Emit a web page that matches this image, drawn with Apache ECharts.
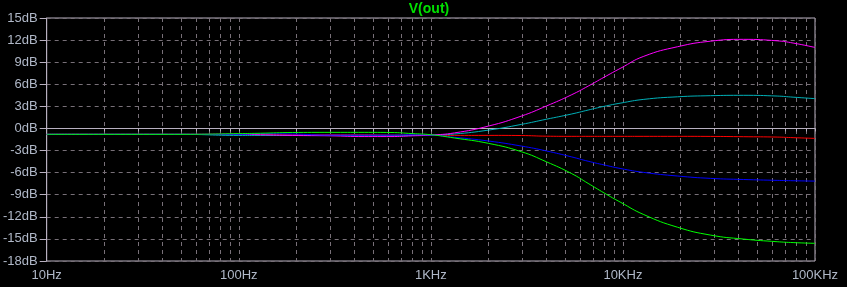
<!DOCTYPE html>
<html>
<head>
<meta charset="utf-8">
<script src="https://cdn.jsdelivr.net/npm/echarts@6/dist/echarts.min.js"></script>
<style>
html,body{margin:0;padding:0;background:#000;}
#chart{width:847px;height:287px;}
</style>
</head>
<body>
<div id="chart"></div>
<script>
const freqs = [10, 50, 100, 130, 190, 300, 450, 620, 800, 1000, 1330, 2000, 2960, 3990, 5380, 6590, 7970, 9760, 12850, 19270, 28570, 42350, 63520, 76900, 100000];
const magentaDb = [-0.8, -0.8, -0.8, -0.85, -0.95, -1.0, -1.1, -1.1, -1.0, -0.9, -0.6, 0.33, 1.68, 3.04, 4.55, 5.75, 6.95, 8.2, 9.8, 11.1, 11.85, 12.1, 11.9, 11.6, 11.0];
const cyanDb = [-0.8, -0.8, -0.95, -0.95, -0.95, -0.95, -1.0, -1.0, -0.95, -0.9, -0.75, -0.22, 0.55, 1.25, 1.95, 2.5, 3.0, 3.45, 3.95, 4.3, 4.45, 4.5, 4.4, 4.25, 4.05];
const redDb = [-0.8, -0.8, -0.8, -0.85, -0.85, -0.85, -0.85, -0.9, -0.9, -0.9, -0.94, -0.94, -0.96, -1.05, -1.07, -1.07, -1.07, -1.07, -1.07, -1.07, -1.08, -1.12, -1.17, -1.25, -1.35];
const blueDb = [-0.8, -0.8, -0.8, -0.7, -0.75, -0.9, -0.9, -0.9, -0.85, -0.9, -1.2, -1.71, -2.39, -3.05, -3.85, -4.45, -4.95, -5.45, -5.97, -6.46, -6.78, -6.93, -7.05, -7.1, -7.15];
const greenDb = [-0.8, -0.8, -0.7, -0.65, -0.55, -0.53, -0.53, -0.55, -0.7, -0.85, -1.3, -2.03, -3.16, -4.52, -6.1, -7.46, -8.75, -10.05, -11.7, -13.42, -14.48, -15.02, -15.38, -15.5, -15.6];

const majorTicks = [10, 100, 1000, 10000, 100000];
const majorLabels = {10: '10Hz', 100: '100Hz', 1000: '1KHz', 10000: '10KHz', 100000: '100KHz'};
const gridTicks = [];
for (const d of [10, 100, 1000, 10000]) { for (let m = 1; m <= 9; m++) gridTicks.push(d * m); }
gridTicks.push(100000);

const yMin = -18, yMax = 15, yStep = 3;

const seriesDefs = [
  {name: 'red', color: '#ff0000', data: redDb},
  {name: 'cyan', color: '#00b0b8', data: cyanDb},
  {name: 'magenta', color: '#ff00ff', data: magentaDb},
  {name: 'blue', color: '#0000ff', data: blueDb},
  {name: 'green', color: '#00ff00', data: greenDb}
];

const frameColor = '#b8b0c0';
const gridColor = '#787078';
const labelColor = '#b0b8c8';
const font = 'Liberation Sans, Arial, sans-serif';

const chart = echarts.init(document.getElementById('chart'), null, {renderer: 'canvas'});
chart.setOption({
  backgroundColor: '#000000',
  animation: false,
  title: {
    text: 'V(out)', left: 429, top: 2, textAlign: 'center', padding: 0,
    textStyle: {color: '#00e000', fontSize: 14, fontWeight: 'bold', fontFamily: font}
  },
  grid: {left: 43, right: 32, top: 18, bottom: 26, show: true, borderColor: frameColor, borderWidth: 1, backgroundColor: 'transparent'},
  xAxis: {
    type: 'log', logBase: 10, min: 10, max: 100000,
    axisLine: {show: true, lineStyle: {color: frameColor}},
    axisTick: {show: true, length: 3, lineStyle: {color: frameColor}, customValues: gridTicks},
    axisLabel: {color: labelColor, fontSize: 13, fontFamily: font, margin: 8,
      customValues: majorTicks, formatter: v => majorLabels[Math.round(v)] || ''},
    splitLine: {show: true, lineStyle: {color: gridColor, type: [4, 4], width: 1}},
    minorTick: {show: false}
  },
  yAxis: {
    type: 'value', min: yMin, max: yMax, interval: yStep,
    axisLine: {show: true, lineStyle: {color: frameColor}},
    axisTick: {show: true, length: 7, lineStyle: {color: frameColor}},
    axisLabel: {color: labelColor, fontSize: 13, fontFamily: font, margin: 9,
      formatter: v => v + 'dB'},
    splitLine: {show: true, lineStyle: {color: gridColor, type: [4, 4], width: 1}}
  },
  series: seriesDefs.map(s => ({
    name: s.name, type: 'line', showSymbol: false, symbol: 'none',
    smooth: 0.5,
    lineStyle: {color: s.color, width: 1},
    itemStyle: {color: s.color},
    data: freqs.map((f, i) => [f, s.data[i]])
  }))
});
</script>
</body>
</html>
